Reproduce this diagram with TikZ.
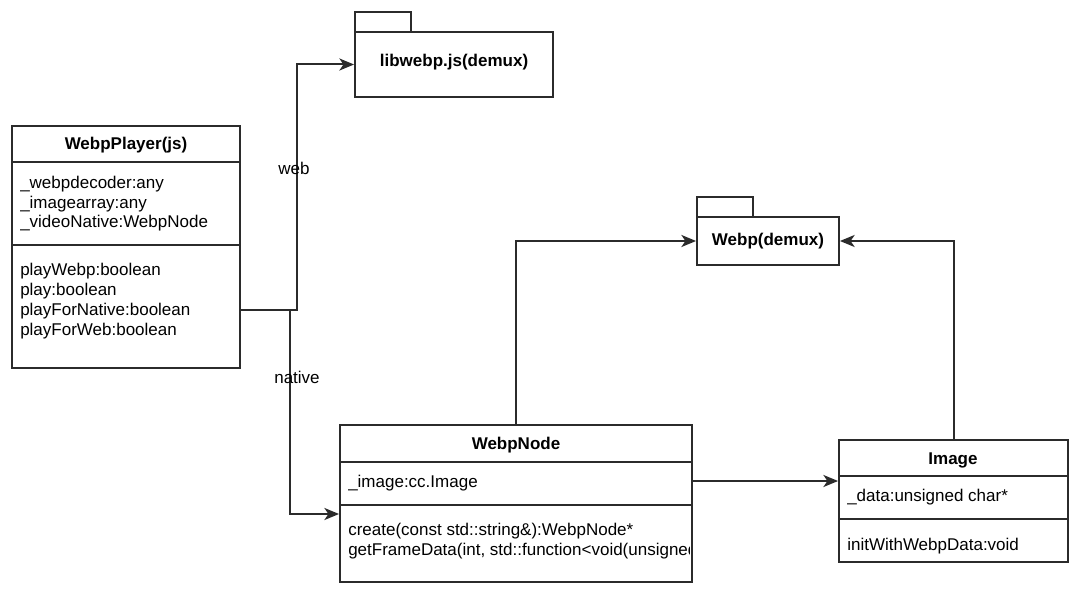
\documentclass[tikz,border=0pt]{standalone}
\usepackage{fontspec}
\setmainfont{Liberation Sans}
\usetikzlibrary{arrows.meta,fit}
\definecolor{linec}{HTML}{2B2B2B}
\begin{document}
\begin{tikzpicture}[x=0.75pt,y=-0.75pt,
  umlbox/.style={draw=linec, line width=1.4pt, fill=white, inner sep=0pt},
  divider/.style={draw=linec, line width=1.4pt},
  conn/.style={draw=linec, line width=1.5pt, -{Stealth[length=11pt,width=9pt,inset=3pt]}},
  title/.style={font=\fontsize{12.75pt}{15pt}\selectfont\bfseries, inner sep=0pt},
  attr/.style={font=\fontsize{12.75pt}{15pt}\selectfont, anchor=west, inner sep=0pt, align=left},
  lbl/.style={font=\fontsize{12.75pt}{15pt}\selectfont, inner sep=0pt}
]
\useasboundingbox (0,0) rectangle (1080,598);

% WebpPlayer(js)
\node[umlbox, fit={(12,126) (240,368)}] (player) {};
\draw[divider] (12,162) -- (240,162);
\draw[divider] (12,245) -- (240,245);
\node[title] (playerT) at (126,145) {WebpPlayer(js)};
\node[attr] (pa1) at (20,184) {\_webpdecoder:any};
\node[attr] (pa2) at (20,204) {\_imagearray:any};
\node[attr] (pa3) at (20,223) {\_videoNative:WebpNode};
\node[attr] (pm1) at (20,271) {playWebp:boolean};
\node[attr] (pm2) at (20,291) {play:boolean};
\node[attr] (pm3) at (20,311) {playForNative:boolean};
\node[attr] (pm4) at (20,331) {playForWeb:boolean};

% libwebp.js(demux) package
\node[umlbox, fit={(355,12) (411,32)}] (libtab) {};
\node[umlbox, fit={(355,32) (553,97)}] (lib) {};
\node[title] (libT) at (454,62) {libwebp.js(demux)};

% Webp(demux) package
\node[umlbox, fit={(697,197) (753,217)}] (webptab) {};
\node[umlbox, fit={(697,217) (839,265)}] (webp) {};
\node[title] (webpT) at (768,241) {Webp(demux)};

% WebpNode
\node[umlbox, fit={(340,425) (692,582)}] (wnode) {};
\draw[divider] (340,462) -- (692,462);
\draw[divider] (340,505) -- (692,505);
\node[title] (wnodeT) at (516,445) {WebpNode};
\node[attr] (wa1) at (348,483) {\_image:cc.Image};
\begin{scope}
\clip (341,506) rectangle (689,580);
\node[attr] (wm1) at (348,531) {create(const std::string\&):WebpNode*};
\node[attr] (wm2) at (348,551) {getFrameData(int, std::function<void(unsigned};
\end{scope}

% Image
\node[umlbox, fit={(839,440) (1068,562)}] (img) {};
\draw[divider] (839,476) -- (1068,476);
\draw[divider] (839,519) -- (1068,519);
\node[title] (imgT) at (953,460) {Image};
\node[attr] (ia1) at (847,497) {\_data:unsigned char*};
\node[attr] (im1) at (847,546) {initWithWebpData:void};

% connectors
\coordinate (pout) at (240,310);
\draw[conn] (pout) -- (297,310) |- (lib.west);
\draw[conn] (pout) -- (290,310) |- (wnode.west |- 0,514);
\draw[conn] (wnode.north) |- (webp.west);
\draw[conn] (img.north) |- (webp.east);
\draw[conn] (wnode.east |- 0,481) -- (img.west |- 0,481);

\node[lbl] (webL) at (294,168) {web};
\node[lbl] (natL) at (297,377) {native};
\end{tikzpicture}
\end{document}
